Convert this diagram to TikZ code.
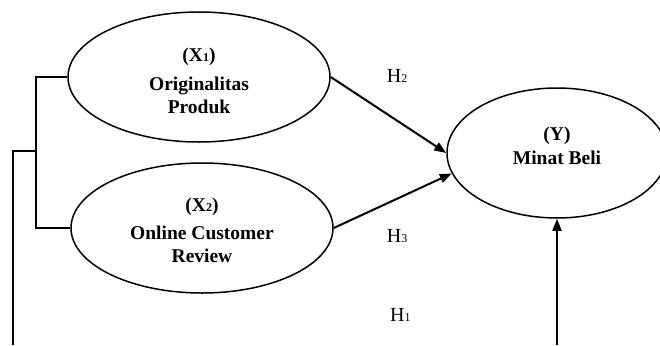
\documentclass[tikz,border=0pt]{standalone}
\usepackage{fontspec}
\setmainfont{Liberation Serif}
\usetikzlibrary{shapes.geometric,arrows.meta}
% small digit set on the baseline, used for the indices
\newcommand\idx[2]{{\fontsize{#1}{#1}\selectfont #2}}

\begin{document}
\begin{tikzpicture}[x=1pt,y=-1pt,
  latent/.style={ellipse, draw, line width=1.5pt, inner sep=0pt, align=center,
    text depth=0pt, font=\bfseries\fontsize{19.5}{22.8}\selectfont},
  effect/.style={line width=2pt, -{Triangle[length=12pt,width=9pt]}},
  link/.style={line width=2pt},
  hyp/.style={inner sep=0pt, anchor=base west, font=\fontsize{20}{24}\selectfont}]
\useasboundingbox (0,0) rectangle (660,345);

% constructs (text height fixes where the last line sits)
\node[latent, minimum width=262pt, minimum height=130pt, text height=72pt] (x1) at (199,77)
  {(X\idx{12}{1})\\[5.5pt] Originalitas\\ Produk};
\node[latent, minimum width=262pt, minimum height=130pt, text height=69.4pt] (x2) at (202,228)
  {(X\idx{12}{2})\\[5.5pt] Online Customer\\ Review};
\node[latent, minimum width=220pt, minimum height=130pt, text height=22pt] (y) at (557,153)
  {(Y)\\[0.5pt] Minat Beli};

% hypothesis labels
\node[hyp] (h2) at (386.7,82.7) {H\idx{12}{2}};
\node[hyp] (h3) at (386.7,242.7) {H\idx{12}{3}};
\node[hyp] (h1) at (390,321) {H\idx{12}{1}};

% joint path of X1 and X2
\coordinate (bx) at (36,151);
\coordinate (lx) at (13,151);
\coordinate (ld) at (13,345);
\coordinate (yd) at (557,345);
\draw[link] (x1.west) -| (bx) |- (x2.west);
\draw[link] (bx) -- (lx) -- (ld);

% direct effects
\draw[effect] (x1.east) -- (y.west);
\draw[effect] (x2.east) -- (y.191);
\draw[effect] (yd) -- (y.south);
\end{tikzpicture}
\end{document}
